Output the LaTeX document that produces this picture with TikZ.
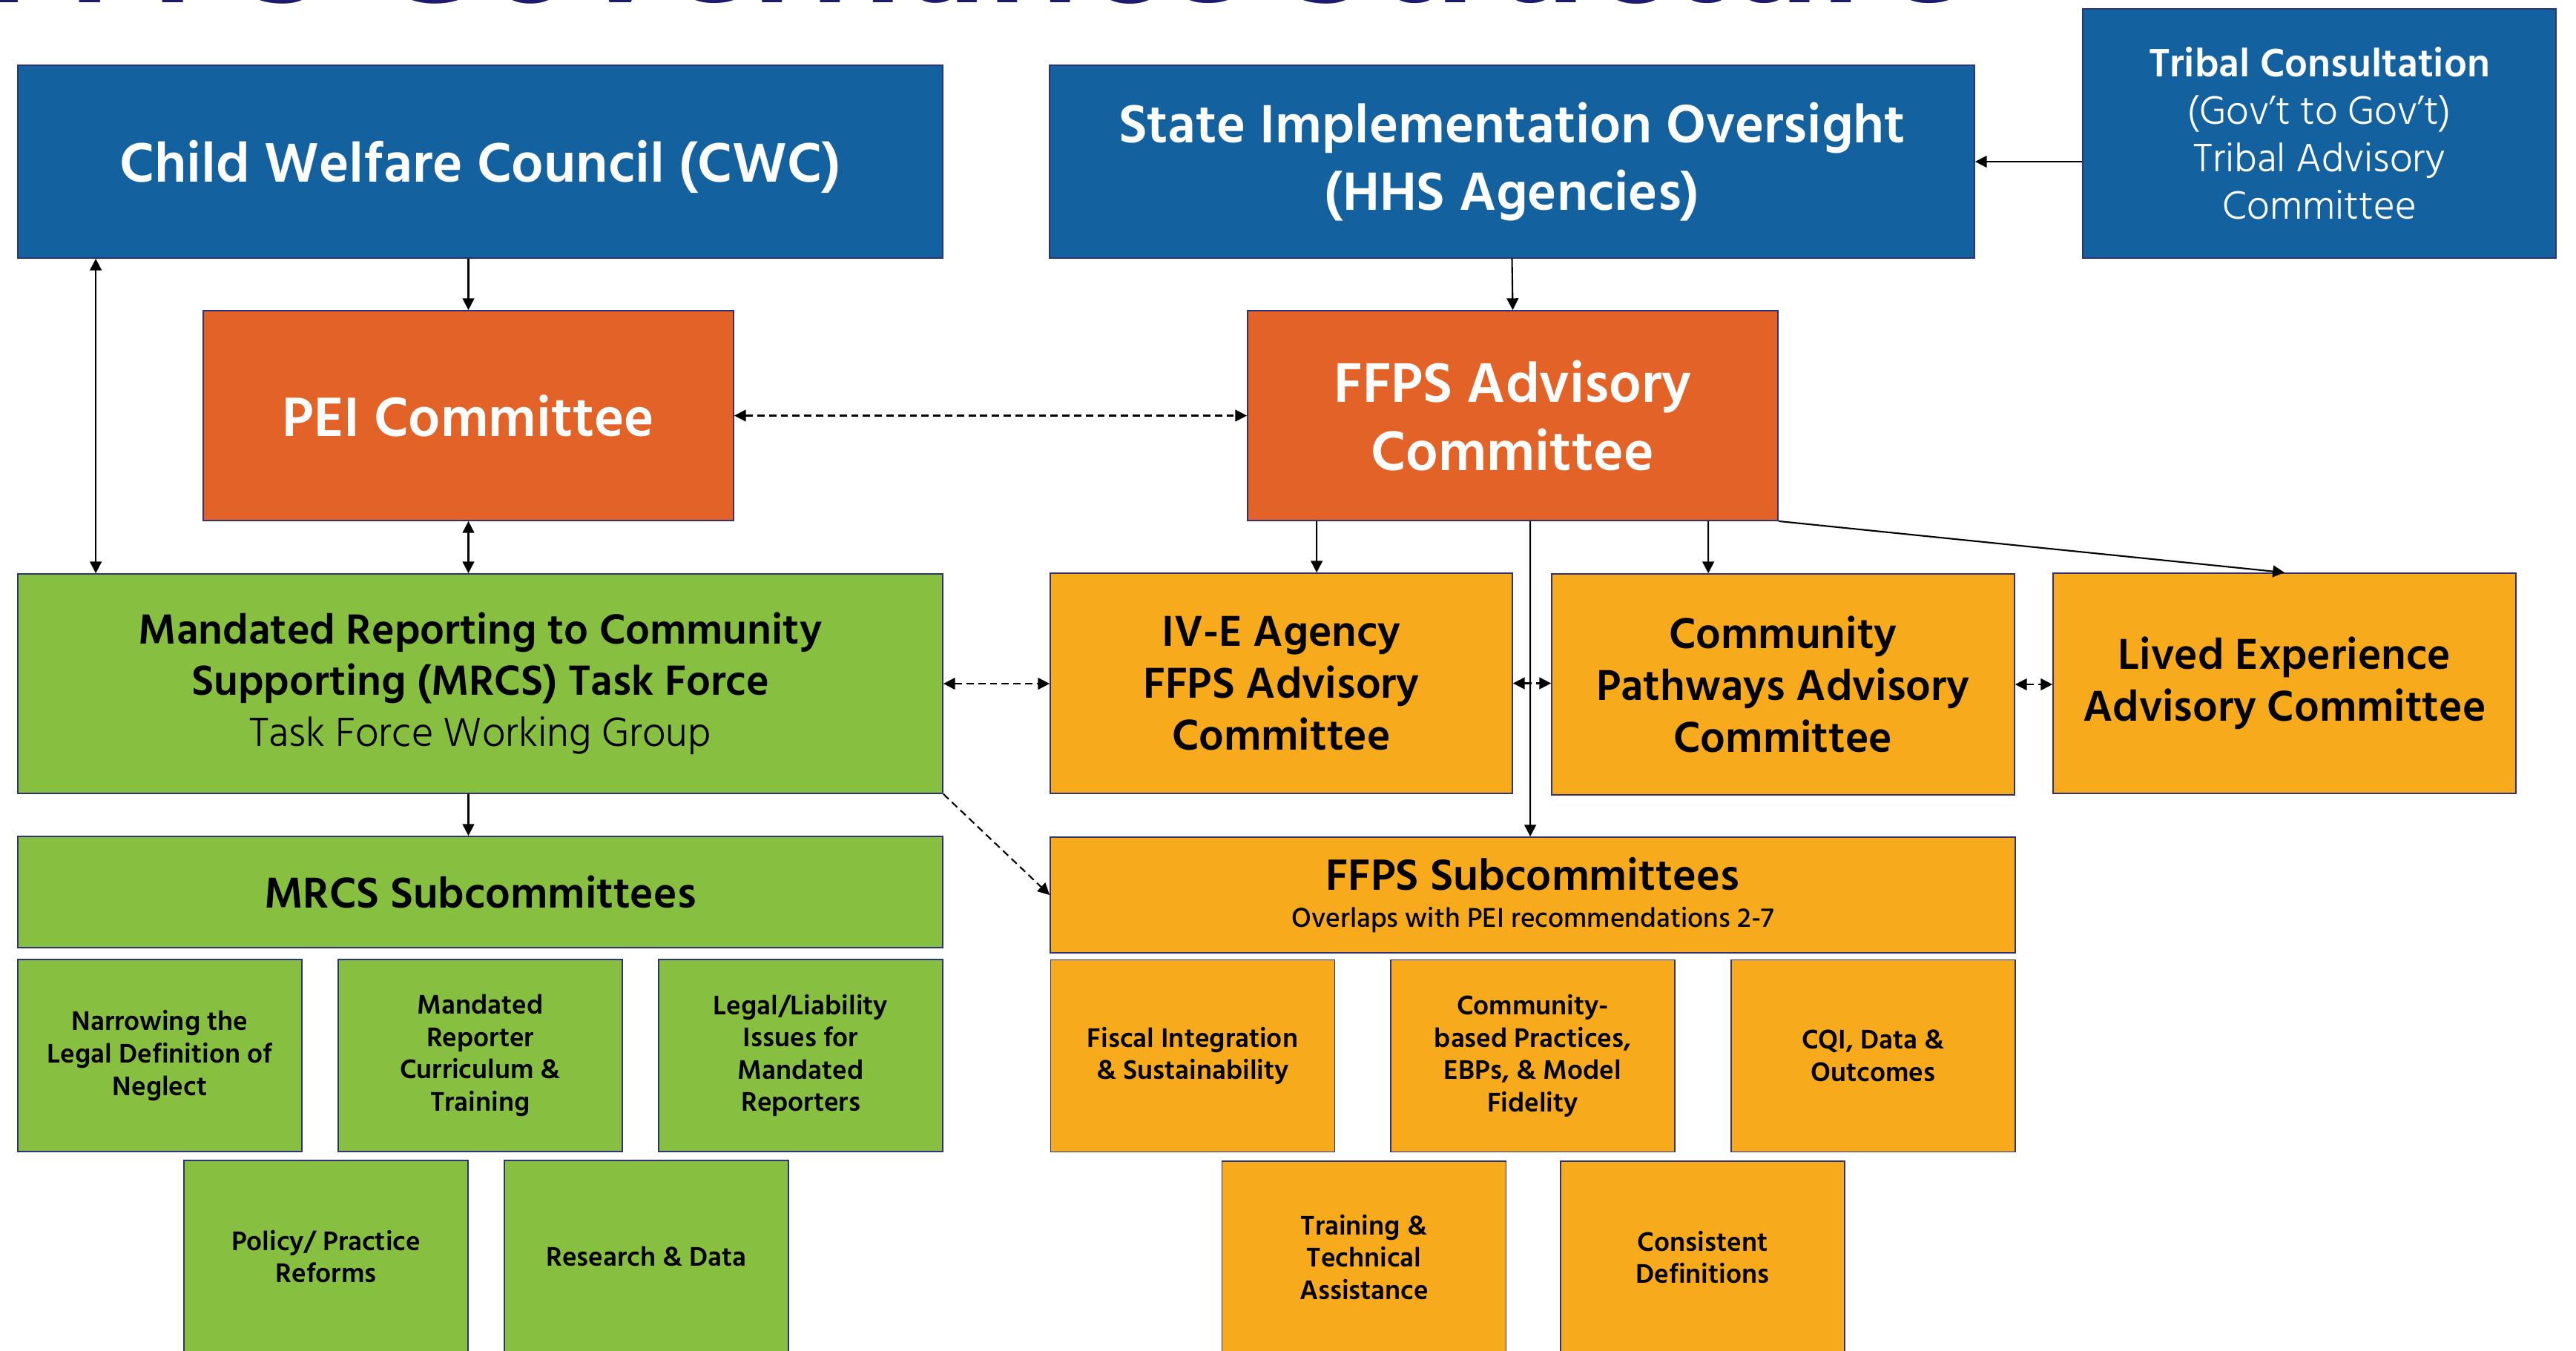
\documentclass[tikz,border=0pt]{standalone}
\usepackage{fontspec}
\setmainfont{Hind Madurai}[BoldFont={Hind Madurai SemiBold}]
\newfontfamily\hindlight{Hind Madurai Light}
\usetikzlibrary{arrows.meta}
\definecolor{cwcblue}{RGB}{20,97,160}
\definecolor{peiorange}{RGB}{226,98,40}
\definecolor{mrcsgreen}{RGB}{135,192,65}
\definecolor{ffpsyellow}{RGB}{246,170,28}
\definecolor{edgenavy}{RGB}{46,50,120}
\definecolor{titlenavy}{RGB}{30,27,110}
\newcommand{\fsize}[2]{\fontsize{#1}{#2}\selectfont}

\begin{document}
\begin{tikzpicture}[
  >={Triangle[length=4.5pt,width=4.5pt]},
  box/.style={draw=edgenavy, line width=0.5pt, inner sep=0pt, align=center},
  bluebox/.style={box, fill=cwcblue, text=white},
  orangebox/.style={box, fill=peiorange, text=white},
  greenbox/.style={box, fill=mrcsgreen, text=black},
  yellowbox/.style={box, fill=ffpsyellow, text=black},
  small/.style={minimum width=3.83cm, minimum height=2.59cm, font=\bfseries\fsize{10.6}{12.4}},
  link/.style={line width=0.6pt},
  dashlink/.style={line width=0.6pt, dash pattern=on 2.8pt off 1.7pt}
]
\useasboundingbox (0,0) rectangle (34.73,-18.21);

% title, cut off by the page edge
\begin{scope}
\clip (0,0) rectangle (34.73,-18.21);
\node[anchor=base west, inner sep=0pt, text=titlenavy, font=\bfseries] (title) at (-0.2,-0.035) {\resizebox{26.7cm}{!}{FFPS Governance Structure}};
\end{scope}

% top row
\node[bluebox, minimum width=12.47cm, minimum height=2.6cm, font=\bfseries\fsize{21.9}{26}] (cwc) at (6.475,-2.18) {\raisebox{-2pt}[\height][\depth]{Child Welfare Council (CWC)}};
\node[bluebox, minimum width=12.47cm, minimum height=2.6cm, font=\bfseries\fsize{21.2}{26}] (sio) at (20.385,-2.18) {State Implementation Oversight\\(HHS Agencies)};
\node[bluebox, minimum width=6.38cm, minimum height=3.36cm, font=\fsize{15.6}{18.2}] (tribal) at (31.27,-1.80) {{\bfseries Tribal Consultation}\\{\hindlight (Gov’t to Gov’t)}\\{\hindlight Tribal Advisory}\\{\hindlight Committee}};

% committees
\node[orangebox, minimum width=7.15cm, minimum height=2.83cm, font=\bfseries\fsize{21.8}{26}] (pei) at (6.315,-5.605) {PEI Committee};
\node[orangebox, minimum width=7.15cm, minimum height=2.83cm, font=\bfseries\fsize{22}{26}] (ffps) at (20.395,-5.605) {FFPS Advisory\\Committee};

\node[greenbox, minimum width=12.47cm, minimum height=2.96cm, font=\fsize{16.6}{19.6}] (mrcs) at (6.475,-9.22) {{\bfseries Mandated Reporting to Community}\\{\bfseries Supporting (MRCS) Task Force}\\{\hindlight\fsize{16}{19.6}Task Force Working Group}};
\node[yellowbox, minimum width=6.23cm, minimum height=2.97cm, font=\bfseries\fsize{17}{20}] (ive) at (17.275,-9.215) {IV-E Agency\\FFPS Advisory\\Committee};
\node[yellowbox, minimum width=6.24cm, minimum height=2.98cm, font=\bfseries\fsize{17}{20}] (comm) at (24.04,-9.23) {Community\\Pathways Advisory\\Committee};
\node[yellowbox, minimum width=6.24cm, minimum height=2.97cm, font=\bfseries\fsize{17}{20}] (lived) at (30.80,-9.215) {Lived Experience\\Advisory Committee};

% subcommittees
\node[greenbox, minimum width=12.47cm, minimum height=1.5cm, font=\bfseries\fsize{17}{20}] (msub) at (6.475,-12.03) {MRCS Subcommittees};
\node[yellowbox, minimum width=13.01cm, minimum height=1.56cm, font=\bfseries\fsize{17.2}{14}] (fsub) at (20.665,-12.07) {FFPS Subcommittees\\{\hindlight\fsize{10.7}{14}Overlaps with PEI recommendations 2-7}};

\node[greenbox, small] (neglect) at (2.155,-14.235) {Narrowing the\\Legal Definition of\\Neglect};
\node[greenbox, small] (curriculum) at (6.475,-14.235) {Mandated\\Reporter\\Curriculum \&\\Training};
\node[greenbox, small] (liability) at (10.795,-14.235) {Legal/Liability\\Issues for\\Mandated\\Reporters};
\node[greenbox, small] (policy) at (4.395,-16.945) {Policy/ Practice\\Reforms};
\node[greenbox, small] (research) at (8.715,-16.945) {Research \& Data};

\node[yellowbox, small] (fiscal) at (16.08,-14.24) {Fiscal Integration\\\& Sustainability};
\node[yellowbox, small] (practices) at (20.665,-14.24) {Community-\\based Practices,\\EBPs, \& Model\\Fidelity};
\node[yellowbox, small] (cqi) at (25.255,-14.24) {CQI, Data \&\\Outcomes};
\node[yellowbox, small] (training) at (18.39,-16.955) {Training \&\\Technical\\Assistance};
\node[yellowbox, small] (definitions) at (22.955,-16.955) {Consistent\\Definitions};

% connectors
\path[draw,link,->] (pei.north |- cwc.south) -- (pei.north);
\path[draw,link,<->] ([xshift=1.06cm]cwc.south west) -- ([xshift=1.06cm]mrcs.north west);
\path[draw,link,<->] (pei.south) -- (pei.south |- mrcs.north);
\path[draw,dashlink,<->] (pei.east) -- (ffps.west);
\path[draw,link,->] (sio.south) -- (ffps.north);
\path[draw,link,->] (tribal.west |- sio.east) -- (sio.east);
\path[draw,link,->] ([xshift=0.94cm]ffps.south west) -- ([xshift=3.6cm]ive.north west);
\path[draw,link,->] ([xshift=3.82cm]ffps.south west) -- ([xshift=6.48cm]fsub.north west);
\path[draw,link,->] ([xshift=6.22cm]ffps.south west) -- ([xshift=2.12cm]comm.north west);
\path[draw,link,->] (ffps.south east) -- (lived.north);
\path[draw,dashlink,<->] (mrcs.east) -- (mrcs.east -| ive.west);
\path[draw,dashlink,<->] (ive.east) -- (ive.east -| comm.west);
\path[draw,dashlink,<->] (comm.east) -- (comm.east -| lived.west);
\path[draw,link,->] (pei.south |- mrcs.south) -- (pei.south |- msub.north);
\path[draw,dashlink,->] (mrcs.south east) -- (fsub.west);
\end{tikzpicture}
\end{document}
